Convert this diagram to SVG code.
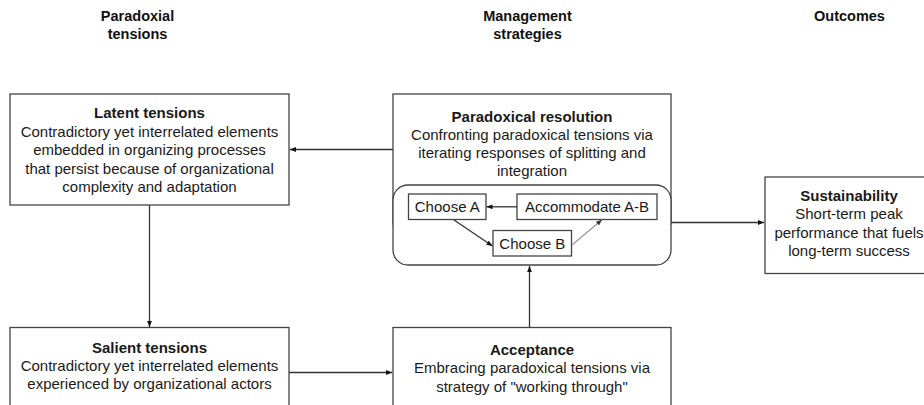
<svg xmlns="http://www.w3.org/2000/svg" width="924" height="405" viewBox="0 0 924 405">
<defs>
<style>
.t{font-family:"Liberation Sans",Arial,sans-serif;font-size:15px;fill:#1a1a1a;text-anchor:middle}
.b{font-weight:bold}
.h{font-family:"Liberation Sans",Arial,sans-serif;font-size:14.5px;font-weight:bold;fill:#111;text-anchor:middle}
.box{fill:#fff;stroke:#444;stroke-width:1.3}
.ln{fill:none;stroke:#333;stroke-width:1.3}
</style>
<marker id="ah" viewBox="0 0 10 10" refX="10" refY="5" markerWidth="6" markerHeight="6" markerUnits="userSpaceOnUse" orient="auto">
<path d="M0,1 L10,5 L0,9 z" fill="#111"/>
</marker>
<marker id="ahg" viewBox="0 0 10 10" refX="10" refY="5" markerWidth="6" markerHeight="6" markerUnits="userSpaceOnUse" orient="auto">
<path d="M0,1 L10,5 L0,9 z" fill="#333"/>
</marker>
</defs>
<rect width="924" height="405" fill="#fff"/>

<g id="headers">
<text class="h" x="137.5" y="21">Paradoxial</text>
<text class="h" x="137.5" y="38.5">tensions</text>
<text class="h" x="527.5" y="21">Management</text>
<text class="h" x="527.5" y="38.5">strategies</text>
<text class="h" x="849.5" y="21">Outcomes</text>
</g>

<g id="connectors">
<line class="ln" x1="393" y1="149.5" x2="290" y2="149.5" marker-end="url(#ah)"/>
<line class="ln" x1="149.5" y1="205" x2="149.5" y2="327" marker-end="url(#ah)"/>
<line class="ln" x1="289" y1="372.5" x2="392" y2="372.5" marker-end="url(#ah)"/>
<line class="ln" x1="529.5" y1="328" x2="529.5" y2="266" marker-end="url(#ah)"/>
<line class="ln" x1="671" y1="222.5" x2="764" y2="222.5" marker-end="url(#ah)"/>
</g>

<g id="latent">
<rect class="box" x="10" y="94" width="279" height="111"/>
<text class="t b" x="149.5" y="118">Latent tensions</text>
<text class="t" x="149.5" y="136.5">Contradictory yet interrelated elements</text>
<text class="t" x="149.5" y="155">embedded in organizing processes</text>
<text class="t" x="149.5" y="173.5">that persist because of organizational</text>
<text class="t" x="149.5" y="192">complexity and adaptation</text>
</g>

<g id="resolution">
<rect class="box" x="393" y="94" width="278" height="130"/>
<text class="t b" x="532" y="121.5">Paradoxical resolution</text>
<text class="t" x="532" y="139.5">Confronting paradoxical tensions via</text>
<text class="t" x="532" y="157.5">iterating responses of splitting and</text>
<text class="t" x="532" y="175.5">integration</text>
<rect class="box" x="393" y="185" width="278" height="80" rx="15" ry="15"/>
<g id="chooseA">
<rect class="box" x="408.5" y="194" width="77.5" height="25.5"/>
<text class="t" x="447.3" y="212">Choose A</text>
</g>
<g id="accommodate">
<rect class="box" x="517" y="194" width="140" height="25.5"/>
<text class="t" x="587" y="212">Accommodate A-B</text>
</g>
<g id="chooseB">
<rect class="box" x="493" y="230.5" width="78.5" height="25.5"/>
<text class="t" x="532.3" y="248.5">Choose B</text>
</g>
<line class="ln" x1="517" y1="206.8" x2="486.5" y2="206.8" marker-end="url(#ah)"/>
<line class="ln" x1="454" y1="220" x2="492.5" y2="246" marker-end="url(#ah)"/>
<line x1="572" y1="245" x2="602" y2="219.8" stroke="#999" stroke-width="1.2" marker-end="url(#ahg)"/>
</g>

<g id="sustainability">
<rect class="box" x="765" y="177" width="168" height="96.5"/>
<text class="t b" x="849" y="201">Sustainability</text>
<text class="t" x="849" y="219">Short-term peak</text>
<text class="t" x="849" y="237.5">performance that fuels</text>
<text class="t" x="849" y="255.5">long-term success</text>
</g>

<g id="salient">
<rect class="box" x="10" y="327.5" width="279" height="90"/>
<text class="t b" x="149.5" y="352.5">Salient tensions</text>
<text class="t" x="149.5" y="370.5">Contradictory yet interrelated elements</text>
<text class="t" x="149.5" y="388.5">experienced by organizational actors</text>
</g>

<g id="acceptance">
<rect class="box" x="393" y="327.5" width="278" height="90"/>
<text class="t b" x="532" y="355">Acceptance</text>
<text class="t" x="532" y="373">Embracing paradoxical tensions via</text>
<text class="t" x="532" y="391.5">strategy of "working through"</text>
</g>
</svg>
